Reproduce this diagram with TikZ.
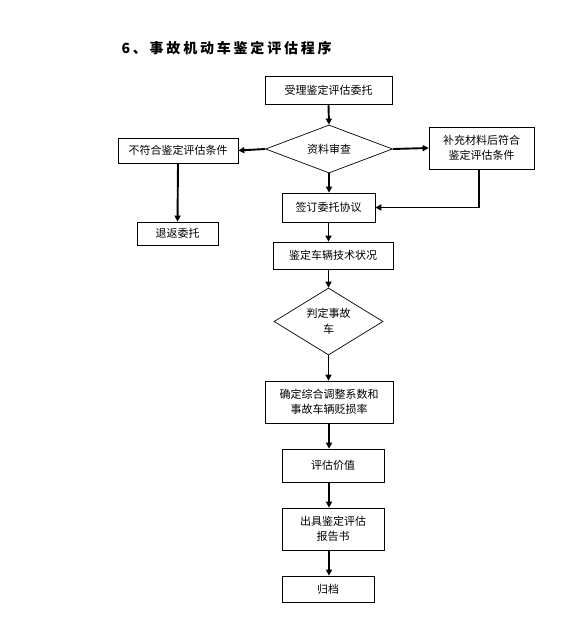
\documentclass[tikz,border=0pt]{standalone}
\usepackage{fontspec}
\setmainfont{Noto Sans CJK SC}
\newfontfamily\cjk{Noto Sans CJK SC}
\usetikzlibrary{arrows.meta,shapes.geometric}
\begin{document}
\begin{tikzpicture}[x=1pt,y=-1pt,
  box/.style={draw,line width=0.7pt,font=\fontsize{11}{15}\selectfont,align=center,inner sep=0pt},
  dia/.style={draw,line width=0.7pt,diamond,font=\fontsize{11}{15}\selectfont,align=center,inner sep=0pt},
  arr/.style={line width=1.9pt,-{Triangle[length=6pt,width=6pt]}},
  ln/.style={line width=1.9pt}]
\useasboundingbox (0,0) rectangle (586,639);
\node[font=\addfontfeatures{LetterSpace=20}\fontsize{14}{16}\selectfont\bfseries,anchor=west] (title) at (118,48) {6、事故机动车鉴定评估程序};
\node[box,minimum width=127pt,minimum height=28pt] (b1) at (328.5,90.5) {受理鉴定评估委托};
\node[dia,minimum width=127pt,minimum height=48pt] (d1) at (329,149) {};
\node[font=\fontsize{11}{15}\selectfont] at (d1.center) {资料审查};
\node[box,minimum width=120pt,minimum height=25pt] (nf) at (178,150.5) {不符合鉴定评估条件};
\node[box,minimum width=105pt,minimum height=42pt] (bc) at (481.5,148) {补充材料后符合\\鉴定评估条件};
\node[box,minimum width=93pt,minimum height=29pt] (qd) at (328.5,207.5) {签订委托协议};
\node[box,minimum width=81pt,minimum height=23pt] (th) at (177.5,233.5) {退返委托};
\node[box,minimum width=120pt,minimum height=27pt] (jd) at (333,255.5) {鉴定车辆技术状况};
\node[dia,minimum width=109pt,minimum height=67pt] (d2) at (328.5,321.5) {};
\node[font=\fontsize{11}{16}\selectfont,align=center] at (d2.center) {判定事故\\车};
\node[box,minimum width=128pt,minimum height=42pt] (qr) at (329,402) {确定综合调整系数和\\事故车辆贬损率};
\node[box,minimum width=102pt,minimum height=33pt] (pg) at (333,465.5) {评估价值};
\node[box,minimum width=102pt,minimum height=42pt] (cj) at (333,529) {出具鉴定评估\\报告书};
\node[box,minimum width=92pt,minimum height=26pt] (gd) at (328,589) {归档};
\draw[arr] (b1.south) -- (d1.north);
\draw[arr] (d1.west) -- (nf.east);
\draw[arr] (d1.east) -- (bc.west);
\draw[arr] (nf.south) -- (th.north);
\draw[arr] (d1.south) -- (d1.south |- qd.north);
\draw[arr] (bc.south -| 479,0) -- (479,207.5) -- (qd.east);
\draw[arr] (qd.south) -- (qd.south |- jd.north);
\draw[arr] (jd.south -| d2.north) -- (d2.north);
\draw[arr] (d2.south) -- (d2.south |- qr.north);
\draw[arr] (qr.south) -- (qr.south |- pg.north);
\draw[arr] (pg.south -| qr.south) -- (qr.south |- cj.north);
\draw[arr] (cj.south -| qr.south) -- (qr.south |- gd.north);
\end{tikzpicture}
\end{document}
